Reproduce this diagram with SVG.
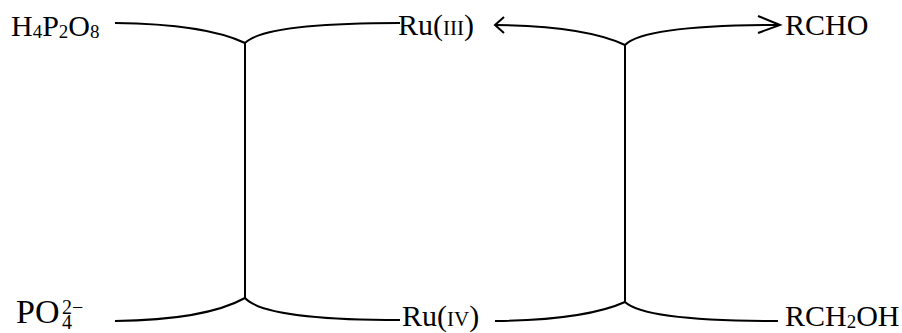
<svg xmlns="http://www.w3.org/2000/svg" width="902" height="333" viewBox="0 0 902 333">
<style>
text{font-family:"Liberation Serif","Times New Roman",serif;font-size:30px;fill:#000}
.sub{font-size:19px}
.sc{font-size:21px}
.ion{font-size:20px}
.ln{fill:none;stroke:#000;stroke-width:2;stroke-linecap:butt}
</style>
<rect width="902" height="333" fill="#fff"/>
<g id="connectors">
<path class="ln" d="M115,23 Q205,24 245,43"/>
<path class="ln" d="M245,43 Q265,23 400,23"/>
<path class="ln" d="M245,43 V298"/>
<path class="ln" d="M115,321 Q205,320 245,298"/>
<path class="ln" d="M245,298 Q265,320 400,320"/>
<path class="ln" d="M495,25 Q585,26 625,45"/>
<path class="ln" d="M625,45 Q645,25 780,25"/>
<path class="ln" d="M625,45 V302"/>
<path class="ln" d="M495,321 Q585,320 625,302"/>
<path class="ln" d="M625,302 Q645,321 778,321"/>
<path class="ln" d="M504,17 L495,25 L504,33"/>
<path class="ln" d="M758,16 L780,25 L758,33"/>
</g>
<g id="n-h4p2o8"><text x="11" y="36">H<tspan class="sub" dy="2">4</tspan><tspan dy="-2">P</tspan><tspan class="sub" dy="2">2</tspan><tspan dy="-2">O</tspan><tspan class="sub" dy="2">8</tspan></text></g>
<g id="n-ru3"><text x="398" y="35">Ru(<tspan class="sc">III</tspan>)</text></g>
<g id="n-rcho"><text x="785" y="35">RCHO</text></g>
<g id="n-po4"><text x="16" y="323" style="font-size:34px">PO<tspan class="ion" x="62" y="314">2−</tspan><tspan class="ion" x="62" y="329">4</tspan></text></g>
<g id="n-ru4"><text x="402" y="326">Ru(<tspan class="sc">IV</tspan>)</text></g>
<g id="n-rch2oh"><text x="785" y="326">RCH<tspan class="sub" dy="2">2</tspan><tspan dy="-2">OH</tspan></text></g>
</svg>
